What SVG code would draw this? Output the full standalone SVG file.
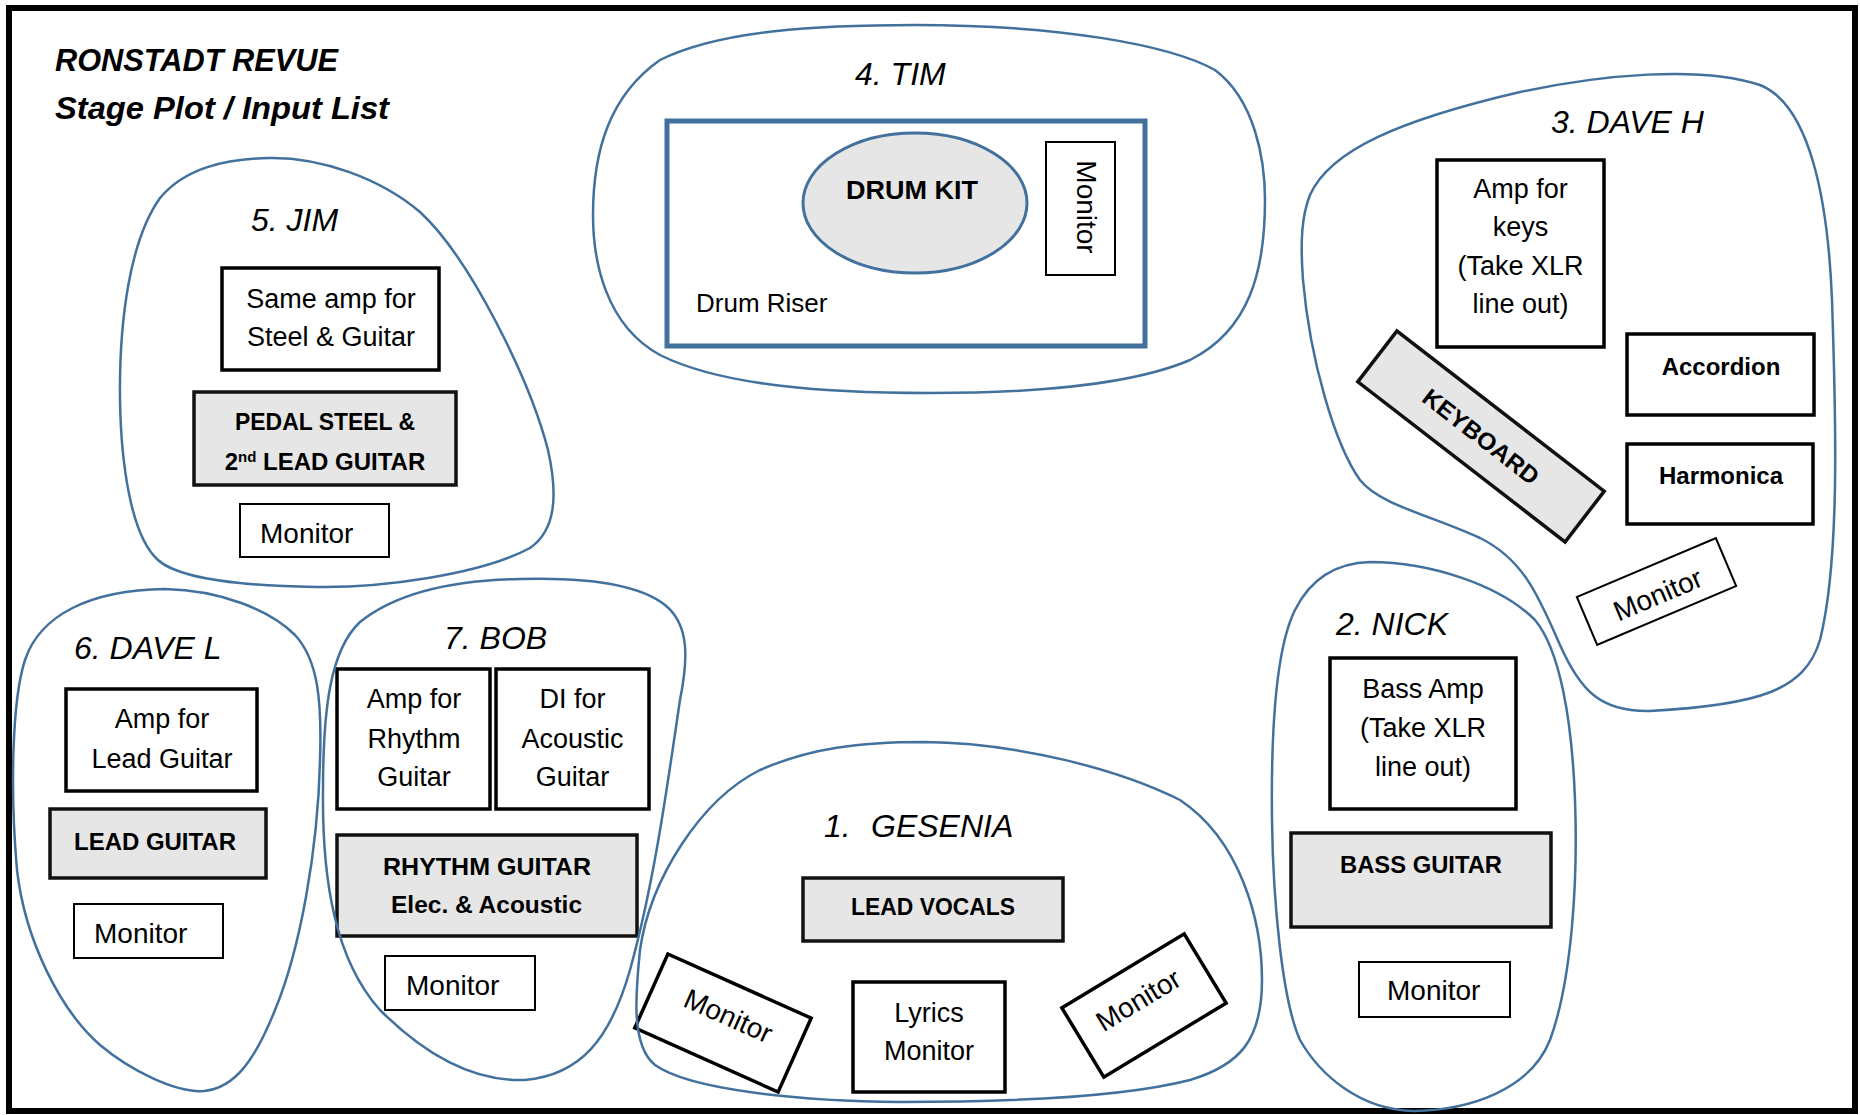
<svg xmlns="http://www.w3.org/2000/svg" width="1860" height="1115" viewBox="0 0 1860 1115">
<style>
  text { font-family: "Liberation Sans", Arial, sans-serif; fill: #000; }
  .reg { font-size: 27px; text-anchor: middle; }
  .mon { font-size: 28px; }
  .name { font-size: 32px; font-style: italic; }
  .b { font-size: 24px; font-weight: bold; text-anchor: middle; }
  .title { font-size: 32px; font-weight: bold; font-style: italic; }
  .box { fill: #fff; stroke: #000; stroke-width: 3.5; }
  .gbox { fill: #e6e6e6; stroke: #111; stroke-width: 3.5; }
  .thin { fill: #fff; stroke: #000; stroke-width: 2; }
  .blob { fill: none; stroke: #41719C; stroke-width: 2.5; }
</style>
<rect x="0" y="0" width="1860" height="1115" fill="#fff"/>
<rect id="stage-border" x="9" y="8" width="1846" height="1103" fill="none" stroke="#000" stroke-width="6"/>

<g id="title">
  <text class="title" x="55" y="71" textLength="283" lengthAdjust="spacingAndGlyphs">RONSTADT REVUE</text>
  <text class="title" x="55" y="119" textLength="334" lengthAdjust="spacingAndGlyphs">Stage Plot / Input List</text>
</g>

<g id="connectors"></g>

<!-- 5. JIM -->
<g id="jim">
  <g id="jim-amp">
    <rect class="box" x="222" y="268" width="217" height="102"/>
    <text class="reg" x="331" y="308">Same amp for</text>
    <text class="reg" x="331" y="346">Steel &amp; Guitar</text>
  </g>
  <g id="jim-pedal-steel">
    <rect class="gbox" x="194" y="392" width="262" height="93"/>
    <text class="b" x="325" y="430" textLength="180" lengthAdjust="spacingAndGlyphs">PEDAL STEEL &amp;</text>
    <text class="b" x="325" y="470">2<tspan font-size="15" dy="-8">nd</tspan><tspan dy="8"> LEAD GUITAR</tspan></text>
  </g>
  <g id="jim-monitor">
    <rect class="thin" x="240" y="504" width="149" height="53"/>
    <text class="mon" x="260" y="543">Monitor</text>
  </g>
  <path class="blob" d="M 269,158 C 320,157 380,178 420,212 C 470,258 530,380 548,450 C 558,495 556,530 530,548 C 480,575 380,588 316,587 C 250,586 180,580 158,560 C 130,535 121,460 120,400 C 119,320 130,240 160,198 C 185,168 225,159 269,158 Z"/>
  <text class="name" x="251" y="231">5. JIM</text>
</g>

<!-- 4. TIM -->
<g id="tim">
  <path class="blob" d="M 915,25 C 1060,25 1170,45 1215,70 C 1255,100 1265,160 1265,200 C 1265,270 1250,330 1190,360 C 1120,390 1000,393 930,393 C 820,393 720,385 660,355 C 605,325 593,260 593,215 C 593,150 610,95 660,60 C 720,30 820,25 915,25 Z"/>
  <text class="name" x="855" y="85">4. TIM</text>
  <g id="drum-riser">
    <rect x="667" y="121" width="478" height="225" fill="none" stroke="#41719C" stroke-width="5"/>
    <text x="696" y="312" font-size="26">Drum Riser</text>
  </g>
  <g id="drum-kit">
    <ellipse cx="915" cy="203" rx="112" ry="70" fill="#e6e6e6" stroke="#41719C" stroke-width="3"/>
    <text x="846" y="199" font-size="25" font-weight="bold" textLength="132" lengthAdjust="spacingAndGlyphs">DRUM KIT</text>
  </g>
  <g id="tim-monitor">
    <rect class="thin" x="1046" y="142" width="69" height="133"/>
    <text class="mon" text-anchor="middle" transform="translate(1077,207) rotate(90)">Monitor</text>
  </g>
</g>

<!-- 3. DAVE H -->
<g id="dave-h">
  <g id="keys-amp">
    <rect class="box" x="1437" y="160" width="167" height="187"/>
    <text class="reg" font-size="26" x="1520.5" y="198">Amp for</text>
    <text class="reg" font-size="26" x="1520.5" y="236">keys</text>
    <text class="reg" font-size="26" x="1520.5" y="275">(Take XLR</text>
    <text class="reg" font-size="26" x="1520.5" y="313">line out)</text>
  </g>
  <g id="accordion">
    <rect class="box" x="1627" y="334" width="187" height="81"/>
    <text class="b" font-size="25" x="1721" y="375">Accordion</text>
  </g>
  <g id="harmonica">
    <rect class="box" x="1627" y="444" width="186" height="80"/>
    <text class="b" font-size="25" x="1721" y="484">Harmonica</text>
  </g>
  <g id="keyboard" transform="translate(1481,436.5) rotate(37.7)">
    <rect class="gbox" x="-131" y="-32" width="262" height="64"/>
    <text class="b" x="0" y="8.5" textLength="140" lengthAdjust="spacingAndGlyphs">KEYBOARD</text>
  </g>
  <g id="dave-h-monitor" transform="translate(1656.5,591.5) rotate(-23)">
    <rect class="thin" x="-75.5" y="-26" width="151" height="52"/>
    <text class="mon" font-size="27" text-anchor="middle" x="0" y="13">Monitor</text>
  </g>
  <path class="blob" d="M 1310,195 C 1330,150 1400,120 1520,92 C 1600,75 1700,65 1760,85 C 1810,105 1828,200 1832,300 C 1836,420 1840,560 1820,640 C 1805,690 1760,705 1650,711 C 1600,712 1580,690 1560,645 C 1540,600 1525,560 1480,538 C 1430,515 1380,505 1360,480 C 1335,445 1310,360 1303,280 C 1300,240 1302,215 1310,195 Z"/>
  <text class="name" x="1551" y="133">3. DAVE H</text>
</g>

<!-- 2. NICK -->
<g id="nick">
  <g id="bass-amp">
    <rect class="box" x="1330" y="658" width="186" height="151"/>
    <text class="reg" font-size="26" x="1423" y="698">Bass Amp</text>
    <text class="reg" font-size="26" x="1423" y="737">(Take XLR</text>
    <text class="reg" font-size="26" x="1423" y="776">line out)</text>
  </g>
  <g id="bass-guitar">
    <rect class="gbox" x="1291" y="833" width="260" height="94"/>
    <text class="b" font-size="25" x="1421" y="873" textLength="162" lengthAdjust="spacingAndGlyphs">BASS GUITAR</text>
  </g>
  <g id="nick-monitor">
    <rect class="thin" x="1359" y="962" width="151" height="55"/>
    <text class="mon" x="1387" y="1000">Monitor</text>
  </g>
  <path class="blob" d="M 1370,562 C 1430,562 1500,585 1535,620 C 1560,650 1572,720 1575,800 C 1578,880 1572,980 1550,1040 C 1530,1090 1470,1110 1414,1111 C 1360,1110 1320,1075 1300,1040 C 1282,1000 1273,900 1272,820 C 1271,740 1275,650 1295,610 C 1310,580 1335,563 1370,562 Z"/>
  <text class="name" x="1336" y="635">2. NICK</text>
</g>

<!-- 6. DAVE L -->
<g id="dave-l">
  <g id="lead-amp">
    <rect class="box" x="66" y="689" width="191" height="102"/>
    <text class="reg" x="162" y="728">Amp for</text>
    <text class="reg" x="162" y="768">Lead Guitar</text>
  </g>
  <g id="lead-guitar">
    <rect class="gbox" x="50" y="809" width="216" height="69"/>
    <text class="b" x="155" y="850" textLength="162" lengthAdjust="spacingAndGlyphs">LEAD GUITAR</text>
  </g>
  <g id="dave-l-monitor">
    <rect class="thin" x="74" y="904" width="149" height="54"/>
    <text class="mon" x="94" y="943">Monitor</text>
  </g>
  <path class="blob" d="M 165,589 C 220,590 270,610 295,635 C 318,660 322,700 320,760 C 318,850 300,950 275,1010 C 255,1060 235,1088 204,1091 C 175,1093 130,1070 100,1045 C 60,1010 25,940 17,870 C 10,790 12,700 25,660 C 40,615 90,590 165,589 Z"/>
  <text class="name" x="74" y="659">6. DAVE L</text>
</g>

<!-- 7. BOB -->
<g id="bob">
  <g id="rhythm-amp">
    <rect class="box" x="337" y="669" width="153" height="140"/>
    <text class="reg" x="414" y="708">Amp for</text>
    <text class="reg" x="414" y="748">Rhythm</text>
    <text class="reg" x="414" y="786">Guitar</text>
  </g>
  <g id="acoustic-di">
    <rect class="box" x="496" y="669" width="153" height="140"/>
    <text class="reg" x="572.5" y="708">DI for</text>
    <text class="reg" x="572.5" y="748">Acoustic</text>
    <text class="reg" x="572.5" y="786">Guitar</text>
  </g>
  <g id="rhythm-guitar">
    <rect class="gbox" x="337" y="835" width="300" height="101"/>
    <text class="b" x="487" y="875" textLength="208" lengthAdjust="spacingAndGlyphs">RHYTHM GUITAR</text>
    <text class="b" x="486.5" y="913" textLength="191" lengthAdjust="spacingAndGlyphs">Elec. &amp; Acoustic</text>
  </g>
  <g id="bob-monitor">
    <rect class="thin" x="385" y="956" width="150" height="54"/>
    <text class="mon" x="406" y="995">Monitor</text>
  </g>
  <path class="blob" d="M 520,579 C 590,577 640,585 665,605 C 690,625 688,660 680,700 C 668,780 655,880 630,970 C 610,1040 580,1075 525,1080 C 470,1082 420,1050 380,1010 C 335,960 322,880 323,790 C 323,710 330,650 360,622 C 400,590 460,580 520,579 Z"/>
  <text class="name" x="444" y="649">7. BOB</text>
</g>

<!-- 1. GESENIA -->
<g id="gesenia">
  <g id="lead-vocals">
    <rect class="gbox" x="803" y="878" width="260" height="63"/>
    <text class="b" x="933" y="915" textLength="164" lengthAdjust="spacingAndGlyphs">LEAD VOCALS</text>
  </g>
  <g id="lyrics-monitor">
    <rect class="box" x="853" y="982" width="152" height="110"/>
    <text class="reg" x="929" y="1022">Lyrics</text>
    <text class="reg" x="929" y="1060">Monitor</text>
  </g>
  <g id="gesenia-monitor-left" transform="translate(723,1023) rotate(24.1)">
    <rect class="box" x="-78.5" y="-40.5" width="157" height="81"/>
    <text class="mon" text-anchor="middle" x="2" y="1">Monitor</text>
  </g>
  <g id="gesenia-monitor-right" transform="translate(1144,1005.5) rotate(-31.2)">
    <rect class="box" x="-71.5" y="-40.5" width="143" height="81"/>
    <text class="mon" text-anchor="middle" x="-2" y="2">Monitor</text>
  </g>
  <path class="blob" d="M 924,742 C 1020,743 1120,770 1180,800 C 1240,840 1262,920 1262,980 C 1262,1040 1240,1065 1190,1080 C 1120,1098 1000,1102 900,1102 C 800,1101 690,1090 655,1065 C 630,1045 636,990 640,950 C 650,880 700,800 760,770 C 810,748 860,742 924,742 Z"/>
  <text class="name" font-size="30" x="824" y="837">1.<tspan x="871">GESENIA</tspan></text>
</g>
</svg>
